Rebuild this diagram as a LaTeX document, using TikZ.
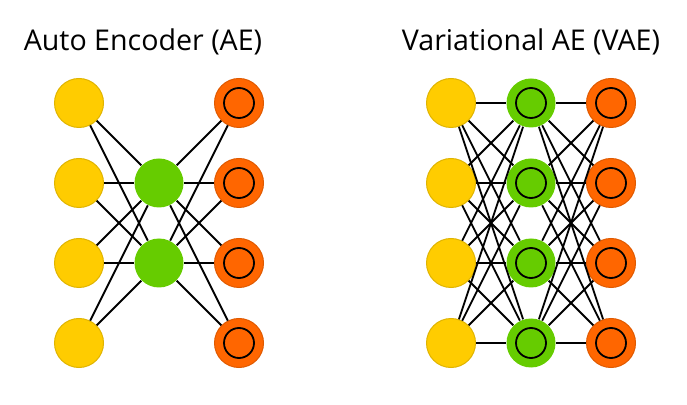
\documentclass[tikz,border=0pt]{standalone}
\usepackage{fontspec}
\setmainfont{Open Sans}
\definecolor{inyellow}{HTML}{FFCC00}
\definecolor{inyellowdark}{HTML}{E0B400}
\definecolor{hidgreen}{HTML}{66CC00}
\definecolor{outorange}{HTML}{FF6600}
\definecolor{outorangedark}{HTML}{E05A00}

\begin{document}
\begin{tikzpicture}[x=1pt,y=1pt,
neuron/.style={circle,minimum size=49pt,inner sep=0pt,line width=1pt},
input neuron/.style={neuron,fill=inyellow,draw=inyellowdark},
hidden neuron/.style={neuron,fill=hidgreen},
output neuron/.style={neuron,fill=outorange,draw=outorangedark},
sampled/.style={path picture={\draw[black,line width=1.8pt] (path picture bounding box.center) circle (15pt);}},
synapse/.style={line width=1.8pt},
title/.style={font=\fontsize{28.6}{32}\selectfont}]
\useasboundingbox (0,0) rectangle (687,404);
% auto encoder
\node[title] (aetitle) at (143,362) {Auto Encoder (AE)};
\foreach \i/\y in {1/301,2/221,3/141,4/61}{
\node[input neuron] (aein\i) at (79,\y) {};
\node[output neuron,sampled] (aeout\i) at (239,\y) {};
}
\node[hidden neuron] (aehid1) at (159,221) {};
\node[hidden neuron] (aehid2) at (159,141) {};
\foreach \i in {1,...,4}
\foreach \j in {1,2}{
\draw[synapse] (aein\i) -- (aehid\j);
\draw[synapse] (aehid\j) -- (aeout\i);
}
% variational auto encoder
\node[title] (vaetitle) at (531,362) {Variational AE (VAE)};
\foreach \i/\y in {1/301,2/221,3/141,4/61}{
\node[input neuron] (vaein\i) at (451,\y) {};
\node[hidden neuron,sampled] (vaehid\i) at (531,\y) {};
\node[output neuron,sampled] (vaeout\i) at (611,\y) {};
}
\foreach \i in {1,...,4}
\foreach \j in {1,...,4}{
\draw[synapse] (vaein\i) -- (vaehid\j);
\draw[synapse] (vaehid\j) -- (vaeout\i);
}
\end{tikzpicture}
\end{document}
